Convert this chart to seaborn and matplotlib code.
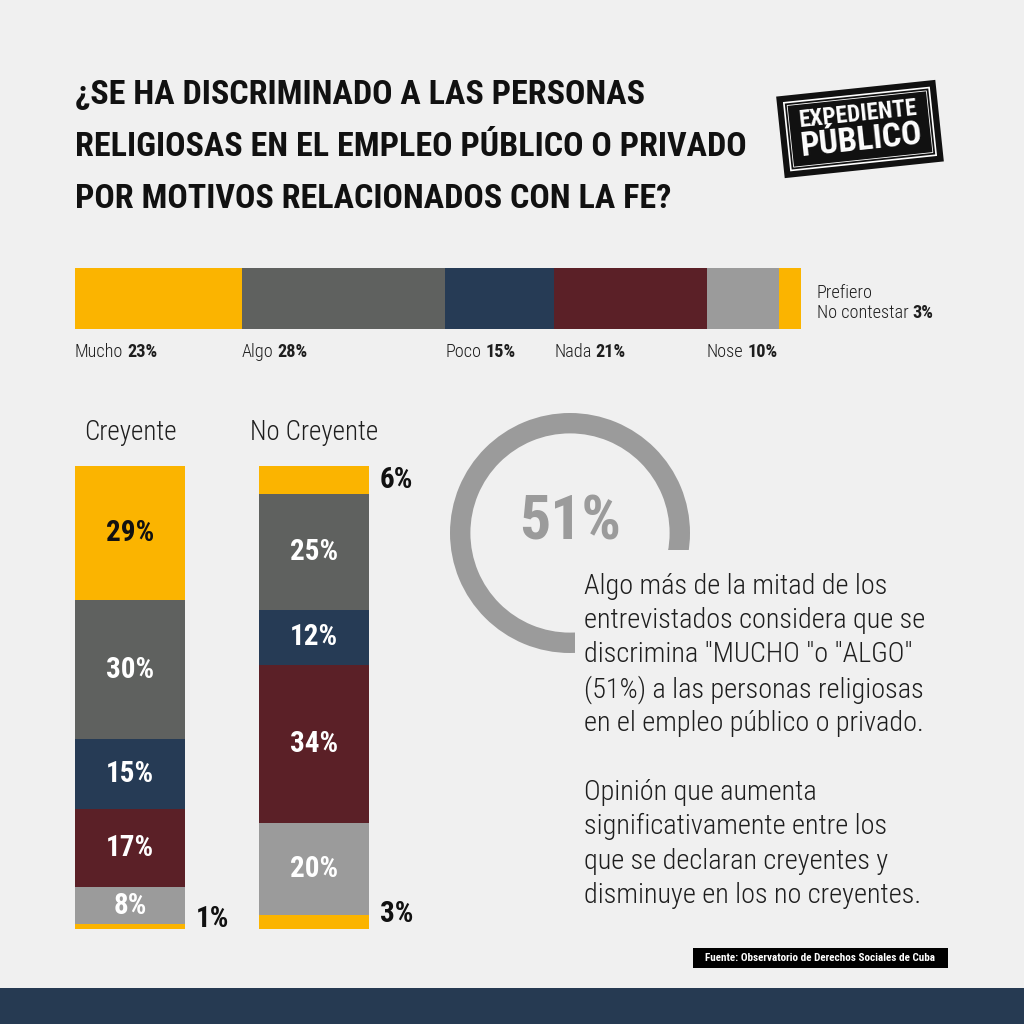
import matplotlib
matplotlib.use("Agg")
import matplotlib.pyplot as plt
import seaborn as sns
import numpy as np
from matplotlib import font_manager
from matplotlib.patches import Rectangle
from matplotlib.transforms import Affine2D, IdentityTransform

# data
categories = ["Mucho", "Algo", "Poco", "Nada", "Nose", "Prefiero No contestar"]
short_labels = ["Mucho", "Algo", "Poco", "Nada", "Nose", "No contestar"]
colors = ["#fbb400", "#5f615f", "#263b55", "#5b2027", "#9b9b9b", "#fbb400"]
total = [23, 28, 15, 21, 10, 3]
groups = ["Creyente", "No Creyente"]
creyente = [29, 30, 15, 17, 8, 1]
no_creyente = [6, 25, 12, 34, 20, 3]
ring_value = 51

title_lines = ["¿SE HA DISCRIMINADO A LAS PERSONAS",
               "RELIGIOSAS EN EL EMPLEO PÚBLICO O PRIVADO",
               "POR MOTIVOS RELACIONADOS CON LA FE?"]
body_lines = ["Algo más de la mitad de los",
              "entrevistados considera que se",
              'discrimina "MUCHO "o "ALGO"',
              "(51%) a las personas religiosas",
              "en el empleo público o privado.",
              "",
              "Opinión que aumenta",
              "significativamente entre los",
              "que se declaran creyentes y",
              "disminuye en los no creyentes."]
source = "Fuente: Observatorio de Derechos Sociales de Cuba"

BG = "#f0f0f0"
TXT = "#1e1e1e"
LIGHT = 300

available = {f.name for f in font_manager.fontManager.ttflist}


def pick(*names):
    for n in names:
        if n in available:
            return n
    return "DejaVu Sans"


title_font = pick("Roboto Condensed", "Liberation Sans Narrow", "DejaVu Sans")
body_font = pick("Roboto Condensed", "Liberation Sans Narrow", "Roboto")
num_font = pick("Roboto Condensed", "Roboto", "DejaVu Sans")

sns.set_theme(style="white")
plt.rcParams["font.family"] = [body_font, "DejaVu Sans"]

fig = plt.figure(figsize=(10.24, 10.24), dpi=100, facecolor=BG)
renderer = fig.canvas.get_renderer()
ID = IdentityTransform()


def fy(py):
    return 1024 - py


def fit(text, family, weight, target, base=20):
    t = fig.text(0, 0, text, fontsize=base, family=family, weight=weight)
    w = t.get_window_extent(renderer).width
    t.remove()
    return base * target / w


def px_text(x, y, s, **kw):
    return fig.text(x, fy(y), s, transform=ID, **kw)


def rich(x, y, parts, size, color=TXT):
    # parts: list of (text, weight)
    for s, w in parts:
        t = px_text(x, y, s, fontsize=size, weight=w, color=color,
                    va="center", ha="left", family=body_font)
        x = t.get_window_extent(renderer).x1 + size * 0.3


# title
tsize = fit(title_lines[1], title_font, "bold", 670, 30)
for i, line in enumerate(title_lines):
    px_text(75, 95 + i * 52, line, fontsize=tsize, weight="bold",
            family=title_font, color="#111111", va="center")

# logo
cx, cy, ang = 860, 129, 6
rot = Affine2D().rotate_deg_around(cx, fy(cy), ang)
fig.patches.append(Rectangle((cx - 80, fy(cy) - 41), 160, 82, facecolor="#111111",
                             edgecolor="none", transform=rot, figure=fig))
fig.patches.append(Rectangle((cx - 73, fy(cy) - 34), 146, 68, facecolor="none",
                             edgecolor="white", lw=1.2, transform=rot, figure=fig))
fig.patches.append(Rectangle((cx - 70, fy(cy) - 31), 140, 62, facecolor="none",
                             edgecolor="white", lw=0.6, transform=rot, figure=fig))
for dy, s, tw in [(15, "EXPEDIENTE", 118), (-12, "PÚBLICO", 122)]:
    a = np.deg2rad(ang)
    lx = cx - dy * np.sin(a)
    ly = fy(cy) + dy * np.cos(a)
    fig.text(lx, ly, s, transform=ID, rotation=ang, rotation_mode="anchor",
             ha="center", va="center", color="white", weight="bold",
             family=num_font, fontsize=fit(s, num_font, "bold", tw))

# top stacked bar
ax_top = fig.add_axes([75 / 1024, fy(329) / 1024, 726 / 1024, 61 / 1024])
cum_total = np.cumsum(total)
for i in range(len(total) - 1, -1, -1):
    sns.barplot(x=[cum_total[i]], y=["Total"], orient="h", color=colors[i],
                saturation=1, width=1, linewidth=0, ax=ax_top)
ax_top.set_xlim(0, 100)
ax_top.set_ylim(0.5, -0.5)
ax_top.set_axis_off()

lsize = fit("Mucho 23%", body_font, LIGHT, 82, 12)
for i in range(len(total) - 1):
    start = cum_total[i] - total[i]
    x = ax_top.transData.transform((start, 0))[0]
    rich(x, 352, [(short_labels[i], LIGHT), (f"{total[i]}%", "bold")], lsize)
px_text(817, 293, "Prefiero", fontsize=lsize, weight=LIGHT, color=TXT,
        va="center", family=body_font)
rich(817, 313, [("No contestar", LIGHT), (f"{total[-1]}%", "bold")], lsize)

# stacked columns
ax_bar = fig.add_axes([75 / 1024, fy(929) / 1024, 294 / 1024, 463 / 1024])
vals = np.array([creyente, no_creyente])
tops = np.cumsum(vals[:, ::-1], axis=1)[:, ::-1]
for i in range(len(categories)):
    sns.barplot(x=groups, y=tops[:, i], color=colors[i], saturation=1,
                width=0.598, linewidth=0, ax=ax_bar)
ax_bar.set_xlim(-0.299, 1.299)
ax_bar.set_ylim(0, 100)
ax_bar.set_axis_off()

bsize = fit("29%", num_font, "bold", 48, 16)
for g in range(len(groups)):
    for i in range(len(categories)):
        v = vals[g, i]
        mid = tops[g, i] - v / 2
        if v >= 8:
            c = "#111111" if colors[i] == "#fbb400" else "white"
            ax_bar.text(g, mid, f"{v}%", ha="center", va="center", color=c,
                        weight="bold", fontsize=bsize, family=num_font)
        else:
            xd, yd = ax_bar.transData.transform((g + 0.299, mid))
            if i == len(categories) - 1:
                yd += 8
            fig.text(xd + 11, yd, f"{v}%", transform=ID, ha="left", va="center",
                     color="#111111", weight="bold", fontsize=bsize, family=num_font)

gsize = fit("No Creyente", body_font, LIGHT, 128, 16)
for g, name in enumerate(groups):
    xd = ax_bar.transData.transform((g, 0))[0]
    px_text(xd, 433, name, fontsize=gsize, weight=LIGHT, ha="center", va="center",
            color=TXT, family=body_font)

# ring
ax_ring = fig.add_axes([450 / 1024, fy(653) / 1024, 240 / 1024, 240 / 1024])
ax_ring.pie([100], colors=["#9b9b9b"], radius=1,
            wedgeprops=dict(width=0.17, linewidth=0))
ax_ring.set_xlim(-1, 1)
ax_ring.set_ylim(-1, 1)
ax_ring.set_zorder(0)
# text panel covering the lower right part of the ring
fig.patches.append(Rectangle((575, fy(915)), 370, 365, facecolor=BG,
                             edgecolor="none", transform=ID, figure=fig, zorder=1))
px_text(570, 522, f"{ring_value}%", fontsize=fit(f"{ring_value}%", num_font, "bold", 102, 30),
        weight="bold", color="#9b9b9b", ha="center", va="center", family=num_font)

bsz = fit(body_lines[3], body_font, LIGHT, 340, 18)
for i, line in enumerate(body_lines):
    if line:
        px_text(584, 586 + i * 34.4, line, fontsize=bsz, weight=LIGHT, color=TXT,
                va="center", family=body_font)

# source box and footer band
fig.patches.append(Rectangle((693, fy(968)), 255, 20, facecolor="black",
                             edgecolor="none", transform=ID, figure=fig, zorder=2))
px_text(820, 958, source, fontsize=fit(source, num_font, "bold", 232, 7),
        weight="bold", color="white", ha="center", va="center", family=num_font, zorder=3)
fig.patches.append(Rectangle((0, 0), 1024, 36, facecolor="#263a52",
                             edgecolor="none", transform=ID, figure=fig, zorder=2))

fig.savefig("out.png", dpi=100, facecolor=BG)
